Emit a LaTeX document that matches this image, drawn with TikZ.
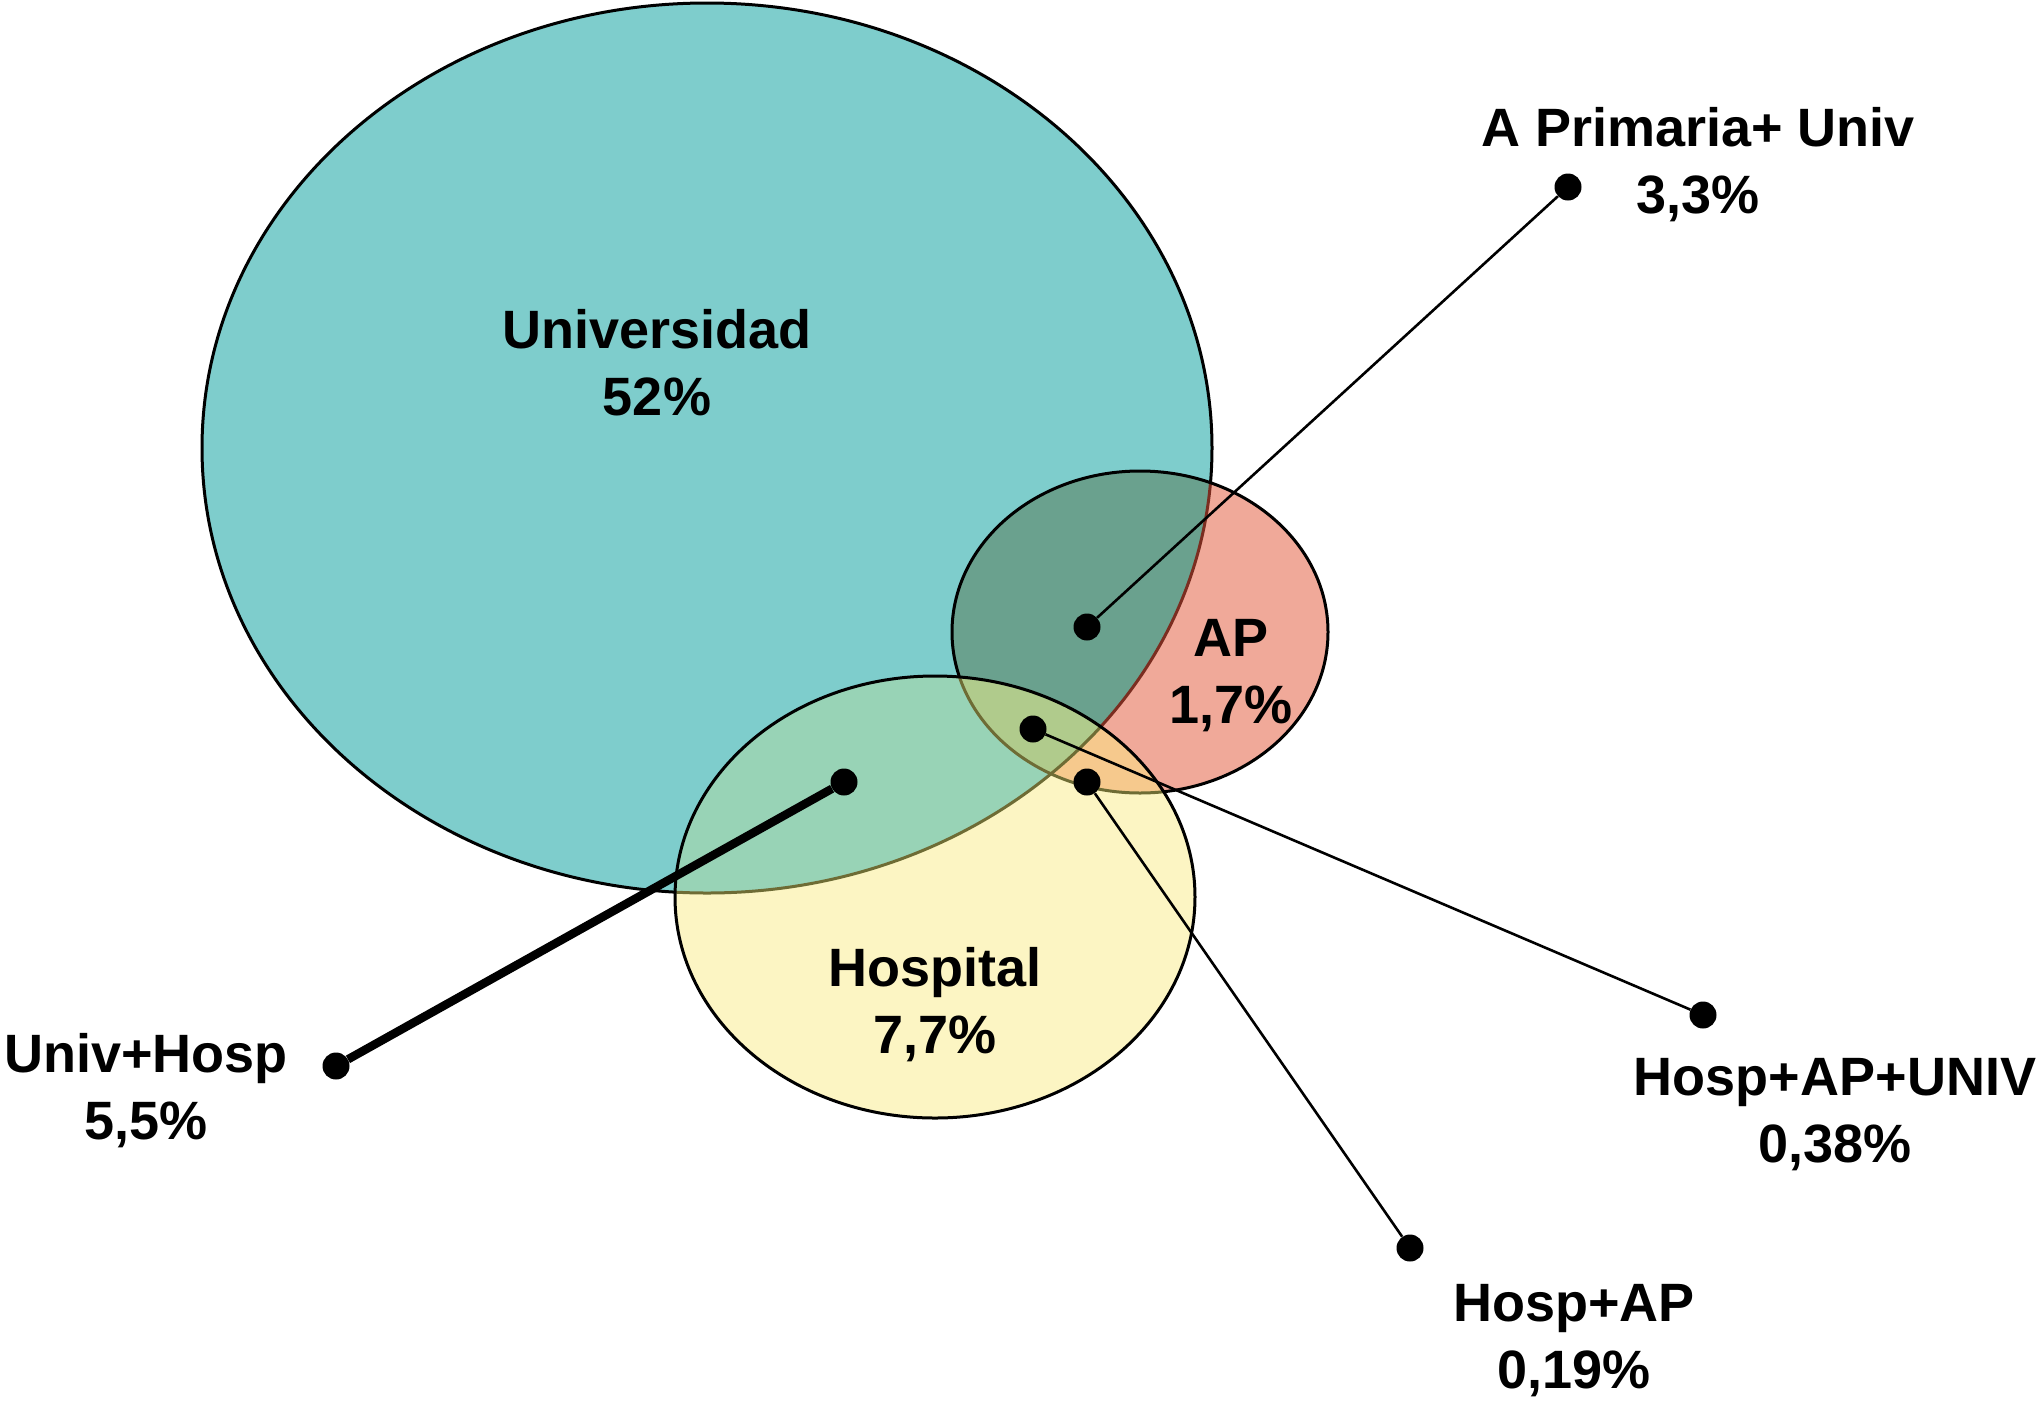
\documentclass[tikz,border=0pt]{standalone}
\usepackage{fontspec}
\setmainfont{Liberation Sans}
\definecolor{univc}{HTML}{7ECDCC}
\definecolor{apc}{HTML}{F0A999}
\definecolor{hospc}{HTML}{FCF5C3}
\definecolor{uac}{HTML}{6AA18E}
\definecolor{uhc}{HTML}{98D3B6}
\definecolor{ahc}{HTML}{F6C98D}
\definecolor{uahc}{HTML}{B0CB8C}
\definecolor{edgered}{HTML}{7B2D20}
\definecolor{edgeolive}{HTML}{6E6C35}
\begin{document}
\begin{tikzpicture}[x=1pt,y=-1pt,
  dot/.style={circle,fill=black,inner sep=0pt,minimum size=27pt},
  lbl/.style={align=center,font=\bfseries\fontsize{54}{67}\selectfont,anchor=base,inner sep=0pt},
  conn/.style={line width=2.6pt},
  thickconn/.style={line width=8.5pt},
  edge/.style={line width=3pt}]
\useasboundingbox (0,0) rectangle (2043,1414);
\def\univpath{(707,448) ellipse [x radius=505, y radius=445]}
\def\appath{(1140,632) ellipse [x radius=188, y radius=161]}
\def\hosppath{(935,897) ellipse [x radius=260, y radius=221]}
% Universidad
\fill[univc] \univpath;
\draw[edge,black] \univpath;
% AP
\fill[apc] \appath;
\begin{scope}
  \clip \appath;
  \fill[uac] \univpath;
  \draw[edge,edgered] \univpath;
\end{scope}
\draw[edge,black] \appath;
% Hospital
\fill[hospc] \hosppath;
\begin{scope}
  \clip \hosppath;
  \fill[uhc] \univpath;
  \fill[ahc] \appath;
  \begin{scope}
    \clip \univpath;
    \fill[uahc] \appath;
  \end{scope}
  \draw[edge,edgeolive] \univpath;
  \draw[edge,edgeolive] \appath;
\end{scope}
\draw[edge,black] \hosppath;
% dots
\node[dot] (apuIn) at (1087,627) {};
\node[dot] (apuOut) at (1568,187) {};
\node[dot] (hauIn) at (1033,729) {};
\node[dot] (hauOut) at (1703,1015) {};
\node[dot] (haIn) at (1087,782) {};
\node[dot] (haOut) at (1410,1248) {};
\node[dot] (uhIn) at (844,782) {};
\node[dot] (uhOut) at (336,1066) {};
% connectors
\draw[conn] (apuIn) -- (apuOut);
\draw[conn] (hauIn) -- (hauOut);
\draw[conn] (haIn) -- (haOut);
\draw[thickconn] (uhIn) -- (uhOut);
% labels (anchor = baseline of the second line)
\node[lbl] (lunivers) at (657,415) {Universidad\\52\%};
\node[lbl] (lap) at (1231,723) {AP\\1,7\%};
\node[lbl] (lhosp) at (935,1053) {Hospital\\7,7\%};
\node[lbl] (lapu) at (1698,213) {A Primaria+ Univ\\3,3\%};
\node[lbl] (luh) at (146,1139) {Univ+Hosp\\5,5\%};
\node[lbl] (lhau) at (1835,1162) {Hosp+AP+UNIV\\0,38\%};
\node[lbl] (lha) at (1574,1388) {Hosp+AP\\0,19\%};
\end{tikzpicture}
\end{document}
